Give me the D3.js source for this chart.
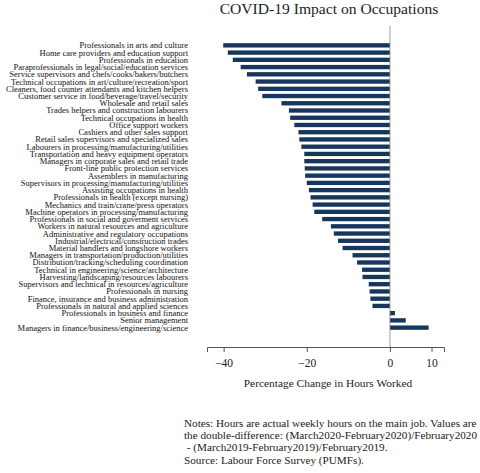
<!DOCTYPE html>
<html>
<head>
<meta charset="utf-8">
<script src="https://cdn.jsdelivr.net/npm/d3@7"></script>
<style>
  body { margin: 0; background: #fff; }
  svg { display: block; font-family: "Liberation Serif", "DejaVu Serif", serif; }
</style>
</head>
<body>
<svg width="480" height="473"></svg>
<script>
const occupations = [
  "Professionals in arts and culture",
  "Home care providers and education support",
  "Professionals in education",
  "Paraprofessionals in legal/social/education services",
  "Service supervisors and chefs/cooks/bakers/butchers",
  "Technical occupations in art/culture/recreation/sport",
  "Cleaners, food counter attendants and kitchen helpers",
  "Customer service in food/beverage/travel/security",
  "Wholesale and retail sales",
  "Trades helpers and construction labourers",
  "Technical occupations in health",
  "Office support workers",
  "Cashiers and other sales support",
  "Retail sales supervisors and specialized sales",
  "Labourers in processing/manufacturing/utilities",
  "Transportation and heavy equipment operators",
  "Managers in corporate sales and retail trade",
  "Front-line public protection services",
  "Assemblers in manufacturing",
  "Supervisors in processing/manufacturing/utilities",
  "Assisting occupations in health",
  "Professionals in health (except nursing)",
  "Mechanics and train/crane/press operators",
  "Machine operators in processing/manufacturing",
  "Professionals in social and goverment services",
  "Workers in natural resources and agriculture",
  "Administrative and regulatory occupations",
  "Industrial/electrical/construction trades",
  "Material handlers and longshore workers",
  "Managers in transportation/production/utilities",
  "Distribution/tracking/scheduling coordination",
  "Technical in engineering/science/architecture",
  "Harvesting/landscaping/resources labourers",
  "Supervisors and technical in resources/agriculture",
  "Professionals in nursing",
  "Finance, insurance and business administration",
  "Professionals in natural and applied sciences",
  "Professionals in business and finance",
  "Senior management",
  "Managers in finance/business/engineering/science"
]

// percentage change in hours worked
const pctChange = [
  -40.1, -39.0, -37.8, -35.9, -34.4, -32.3, -31.7, -30.7, -26.1, -24.3,
  -24.0, -23.0, -22.0, -21.8, -21.3, -20.6, -20.6, -20.5, -20.4, -20.0,
  -19.5, -19.1, -18.6, -18.2, -16.3, -14.2, -13.5, -12.5, -11.4, -9.0,
  -7.9, -6.7, -6.6, -5.1, -4.9, -4.7, -4.2, 1.2, 3.8, 9.3
]

const xTicks = [-40, -20, 0, 10]

const noteLines = [
  "Notes: Hours are actual weekly hours on the main job. Values are",
  "the double-difference: (March2020-February2020)/February2020",
  " - (March2019-February2019)/February2019.",
  "Source: Labour Force Survey (PUMFs)."
]

const svg = d3.select("svg"),
      barColor = "#16365c"

const data = occupations.map((o, i) => ({ name: o, value: pctChange[i] }))

const x = d3.scaleLinear()
        .domain([-44, 13])
        .range([207, 444])

const y = d3.scaleBand()
        .domain(occupations)
        .range([40.3, 332.7])
        .padding(0.4)

// title
svg.append("text")
    .attr("x", 329)
    .attr("y", 14)
    .attr("text-anchor", "middle")
    .style("font-size", "15.6px")
    .style("fill", "#222")
    .text("COVID-19 Impact on Occupations")

// bars
svg.selectAll(".bar")
    .data(data)
  .enter().append("rect")
    .attr("class", "bar")
    .attr("x", (d) => x(Math.min(0, d.value)))
    .attr("width", (d) => Math.abs(x(d.value) - x(0)))
    .attr("y", (d) => y(d.name))
    .attr("height", y.bandwidth())
    .style("fill", barColor)

// zero line
svg.append("line")
    .attr("x1", x(0)).attr("x2", x(0))
    .attr("y1", 26).attr("y2", 347)
    .style("stroke", "#888")
    .style("stroke-width", 0.8)

// category labels
svg.selectAll(".label")
    .data(data)
  .enter().append("text")
    .attr("class", "label")
    .attr("x", 188)
    .attr("y", (d) => y(d.name) + y.bandwidth() / 2)
    .attr("dy", "0.35em")
    .attr("text-anchor", "end")
    .style("font-size", "8.5px")
    .style("fill", "#111")
    .text((d) => d.name)

// x axis
const xAxis = svg.append("g")
    .attr("transform", "translate(0,347)")
    .call(d3.axisBottom(x).tickValues(xTicks).tickSize(5).tickPadding(7).tickFormat(d3.format("d")))

xAxis.select(".domain").attr("stroke", "#555")
xAxis.selectAll(".tick line").attr("stroke", "#555")
xAxis.selectAll(".tick text")
    .style("font-family", "'Liberation Serif', serif")
    .style("font-size", "11.5px")
    .style("fill", "#222")

svg.append("text")
    .attr("x", 328)
    .attr("y", 387)
    .attr("text-anchor", "middle")
    .style("font-size", "11.4px")
    .style("fill", "#222")
    .text("Percentage Change in Hours Worked")

// notes
svg.selectAll(".note")
    .data(noteLines)
  .enter().append("text")
    .attr("class", "note")
    .attr("x", 184)
    .attr("y", (d, i) => 427 + i * 12.2)
    .style("font-size", "11.2px")
    .style("fill", "#222")
    .style("white-space", "pre")
    .text((d) => d)
</script>
</body>
</html>
